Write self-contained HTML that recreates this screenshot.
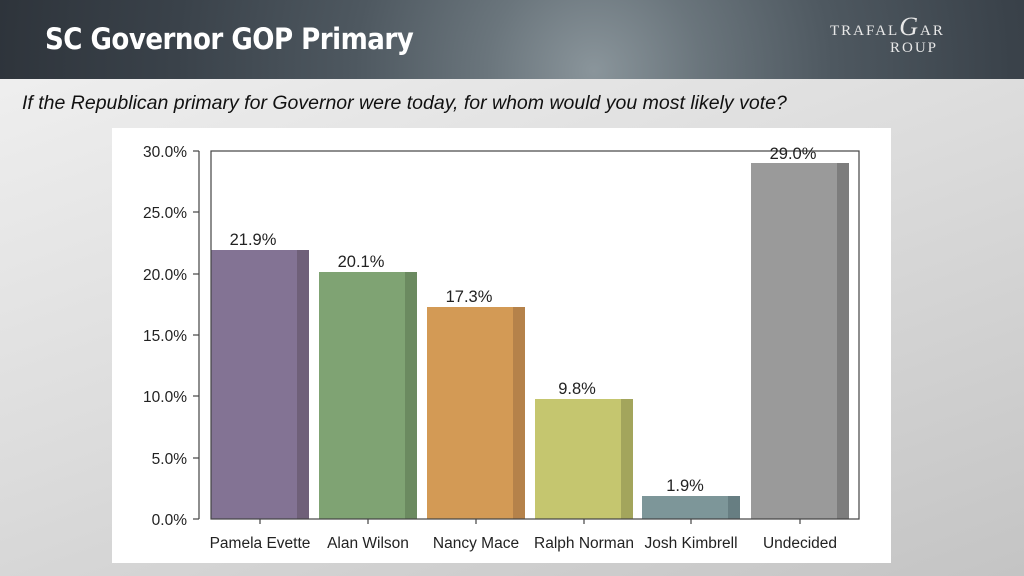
<!DOCTYPE html>
<html><head><meta charset="utf-8"><style>
body{margin:0;width:1024px;height:576px;overflow:hidden;position:relative;font-family:"Liberation Sans",sans-serif;
background:linear-gradient(160deg,#f2f2f2 0%,#dcdcdc 50%,#c4c4c4 100%);}
#hdr{position:absolute;left:0;top:0;width:1024px;height:79px;
background:radial-gradient(circle at 58% 90%,#8a959b 0%,#6a757c 18%,#4e5860 40%,#3a424a 70%,#2e343b 100%);}
#title{position:absolute;left:45px;top:22px;color:#fff;font-size:29px;font-weight:bold;font-family:"DejaVu Sans Condensed","Liberation Sans Narrow",sans-serif;letter-spacing:-0.5px}
#logo{position:absolute;left:830px;top:18px;color:#e8e8e8;font-family:"Liberation Serif",serif;font-size:15px;letter-spacing:2px;line-height:17px}
#q{position:absolute;left:22px;top:92px;font-size:19.5px;font-style:italic;color:#111;white-space:nowrap}
#panel{position:absolute;left:112px;top:128px;width:779px;height:435px;background:#fff}
</style></head><body>
<div id="hdr"></div>
<div id="title">SC Governor GOP Primary</div>
<div id="logo">TRAFAL<span style="font-size:26px;font-style:italic">G</span>AR<br><span style="padding-left:60px">ROUP</span></div>
<div id="q">If the Republican primary for Governor were today, for whom would you most likely vote?</div>
<div id="panel"></div>
<svg width="1024" height="576" style="position:absolute;left:0;top:0" font-family="Liberation Sans, sans-serif">
<g font-size="15.5" fill="#222" text-anchor="end">
<text x="187" y="157">30.0%</text><text x="187" y="218">25.0%</text><text x="187" y="280">20.0%</text>
<text x="187" y="341">15.0%</text><text x="187" y="402">10.0%</text><text x="187" y="464">5.0%</text><text x="187" y="525">0.0%</text>
</g>
<g stroke="#444" stroke-width="1.2">
<line x1="199" y1="151" x2="199" y2="519"/>
<line x1="193" y1="151" x2="199" y2="151"/><line x1="193" y1="212" x2="199" y2="212"/><line x1="193" y1="274" x2="199" y2="274"/>
<line x1="193" y1="335" x2="199" y2="335"/><line x1="193" y1="396" x2="199" y2="396"/><line x1="193" y1="458" x2="199" y2="458"/><line x1="193" y1="519" x2="199" y2="519"/>
</g>
<g>
<rect x="211" y="250" width="98" height="269" fill="#837394"/><rect x="297" y="250" width="12" height="269" fill="#6f6079"/>
<rect x="319" y="272" width="98" height="247" fill="#7fa373"/><rect x="405" y="272" width="12" height="247" fill="#6b8a60"/>
<rect x="427" y="307" width="98" height="212" fill="#d39a55"/><rect x="513" y="307" width="12" height="212" fill="#b5824a"/>
<rect x="535" y="399" width="98" height="120" fill="#c5c66f"/><rect x="621" y="399" width="12" height="120" fill="#a3a55c"/>
<rect x="642" y="496" width="98" height="23" fill="#7d9699"/><rect x="728" y="496" width="12" height="23" fill="#677e82"/>
<rect x="751" y="163" width="98" height="356" fill="#9a9a9a"/><rect x="837" y="163" width="12" height="356" fill="#7d7d7d"/>
</g>
<rect x="211" y="151" width="648" height="368" fill="none" stroke="#444" stroke-width="1.2"/>
<g stroke="#444" stroke-width="1.2">
<line x1="260" y1="519" x2="260" y2="524"/><line x1="368" y1="519" x2="368" y2="524"/><line x1="476" y1="519" x2="476" y2="524"/>
<line x1="584" y1="519" x2="584" y2="524"/><line x1="691" y1="519" x2="691" y2="524"/><line x1="800" y1="519" x2="800" y2="524"/>
</g>
<g font-size="16.5" fill="#222" text-anchor="middle">
<text x="253" y="245">21.9%</text><text x="361" y="267">20.1%</text><text x="469" y="302">17.3%</text>
<text x="577" y="394">9.8%</text><text x="685" y="491">1.9%</text><text x="793" y="159">29.0%</text>
</g>
<g font-size="15.5" fill="#222" text-anchor="middle">
<text x="260" y="548">Pamela Evette</text><text x="368" y="548">Alan Wilson</text><text x="476" y="548">Nancy Mace</text>
<text x="584" y="548">Ralph Norman</text><text x="691" y="548">Josh Kimbrell</text><text x="800" y="548">Undecided</text>
</g>
</svg>
</body></html>
